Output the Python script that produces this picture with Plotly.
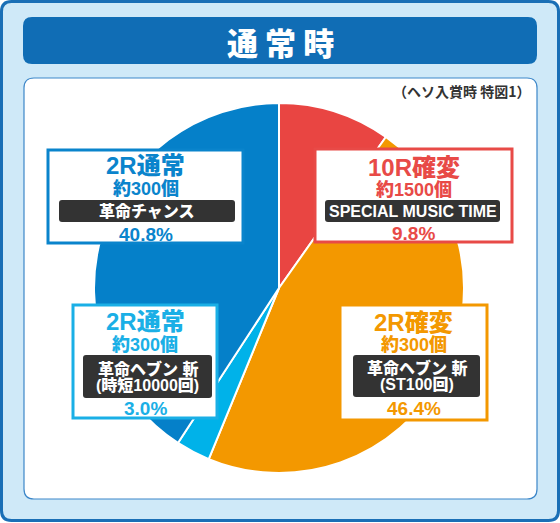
import plotly.graph_objects as go

# slice data (clockwise from 12 o'clock)
labels  = ["10R確変", "2R確変", "2R通常(時短)", "2R通常"]
values  = [9.8, 46.4, 3.0, 40.8]
colors  = ["#e94542", "#f39800", "#00b2e9", "#0580c9"]

# label box texts
box_title  = ["10R確変", "2R確変", "2R通常", "2R通常"]
box_payout = ["約1500個", "約300個", "約300個", "約300個"]
box_mode   = [["SPECIAL MUSIC TIME"], ["革命ヘブン 斬", "(ST100回)"],
              ["革命ヘブン 斬", "(時短10000回)"], ["革命チャンス"]]
box_pct    = ["9.8%", "46.4%", "3.0%", "40.8%"]

W, H = 560, 523
FONT = "Liberation Sans, Noto Sans CJK JP, sans-serif"
CJK = "Noto Sans CJK JP, sans-serif"


def rrect(x0, y0, x1, y1, r):
    return (f"M{x0+r},{y0} L{x1-r},{y0} Q{x1},{y0} {x1},{y0+r} "
            f"L{x1},{y1-r} Q{x1},{y1} {x1-r},{y1} L{x0+r},{y1} "
            f"Q{x0},{y1} {x0},{y1-r} L{x0},{y0+r} Q{x0},{y0} {x0+r},{y0} Z")


def f(size, color, family=FONT):
    return dict(size=size, color=color, family=family, weight=900)


# pie placement (pixels)
CX, CY, R = 279, 288, 185
dom_x = [(CX - R) / W, (CX + R) / W]
dom_y = [(H - CY - R) / H, (H - CY + R) / H]

fig = go.Figure()
fig.add_trace(go.Scatter(x=[], y=[], showlegend=False))
fig.add_trace(go.Pie(
    labels=labels, values=values, sort=False, direction="clockwise",
    marker=dict(colors=colors, line=dict(color="white", width=2)),
    textinfo="none", hoverinfo="label+percent", showlegend=False,
    domain=dict(x=dom_x, y=dom_y),
))

shapes = [
    dict(type="path", path=rrect(1.5, 1.5, 558.5, 520.5, 10), layer="below",
         fillcolor="#cfe9f8", line=dict(color="#1a6fb6", width=3)),
    dict(type="path", path=rrect(23, 17, 537, 64, 9), layer="below",
         fillcolor="#106db5", line=dict(width=0)),
    dict(type="path", path=rrect(24, 78, 537, 499, 10), layer="below",
         fillcolor="white", line=dict(color="#3d87c9", width=1.2)),
]
ann = [
    dict(x=280, y=41, text="通 常 時", font=f(31, "white", CJK)),
    dict(x=532, y=91, text="（ヘソ入賞時 特図1）", xanchor="right",
         font=dict(size=14, color="#333333", family=CJK, weight=700)),
]

# box geometry: [x0, y0, x1, y1], title y, payout y, bar [x0, y0, x1, y1], line ys, pct y
boxes = [
    dict(b=[315, 149, 512, 242], ty=167, py=189, bar=[325, 200, 500, 222],
         ly=[211], cy=233, col="#e84a47"),
    dict(b=[340, 305, 487, 420], ty=322, py=344, bar=[353, 355, 480, 397],
         ly=[368, 384], cy=408, col="#f39800"),
    dict(b=[73, 305, 217, 418], ty=321, py=344, bar=[83, 355, 212, 398],
         ly=[369, 385], cy=408, col="#1aafe6"),
    dict(b=[48, 150, 243, 243], ty=165, py=188, bar=[59, 200, 235, 222],
         ly=[211], cy=234, col="#0a84cc"),
]

for i, bx in enumerate(boxes):
    x0, y0, x1, y1 = bx["b"]
    xc = (x0 + x1) / 2
    col = bx["col"]
    shapes.append(dict(type="rect", x0=x0, y0=y0, x1=x1, y1=y1, layer="above",
                       fillcolor="white", line=dict(color=col, width=3)))
    bx0, by0, bx1, by1 = bx["bar"]
    shapes.append(dict(type="path", path=rrect(bx0, by0, bx1, by1, 3),
                       layer="above", fillcolor="#333333", line=dict(width=0)))
    ann.append(dict(x=xc, y=bx["ty"], text=box_title[i], font=f(24, col)))
    ann.append(dict(x=xc, y=bx["py"], text=box_payout[i], font=f(18, col)))
    for ly, line in zip(bx["ly"], box_mode[i]):
        ann.append(dict(x=(bx0 + bx1) / 2, y=ly, text=line,
                        font=f(16, "white")))
    ann.append(dict(x=xc, y=bx["cy"], text=box_pct[i], font=f(19, col)))

for a in ann:
    a.update(xref="x", yref="y", showarrow=False)
    a.setdefault("xanchor", "center")
    a.setdefault("yanchor", "middle")

fig.update_layout(
    width=W, height=H, margin=dict(l=0, r=0, t=0, b=0),
    paper_bgcolor="white", plot_bgcolor="rgba(0,0,0,0)",
    xaxis=dict(range=[0, W], visible=False, fixedrange=True),
    yaxis=dict(range=[H, 0], visible=False, fixedrange=True),
    shapes=shapes, annotations=ann, showlegend=False,
)

fig.write_html("out.html", config={"displayModeBar": False},
               post_script="document.body.style.margin='0';"
                           "document.body.style.overflow='hidden';")
